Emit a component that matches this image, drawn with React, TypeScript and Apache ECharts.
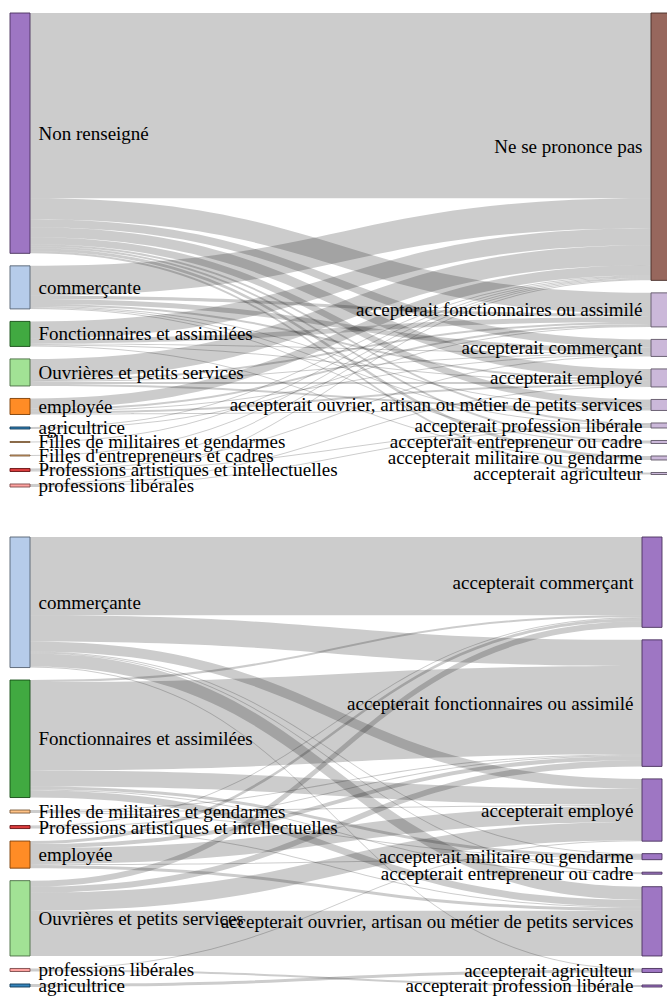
import React, { useEffect, useRef } from 'react';
import * as echarts from 'echarts';

// ---------- Top diagram ----------
const topOrigins = [
  'Non renseigné',
  'commerçante',
  'Fonctionnaires et assimilées',
  'Ouvrières et petits services',
  'employée',
  'agricultrice',
  'Filles de militaires et gendarmes',
  "Filles d'entrepreneurs et cadres",
  'Professions artistiques et intellectuelles',
  'professions libérales',
];
const topAnswers = [
  'Ne se prononce pas',
  'accepterait fonctionnaires ou assimilé',
  'accepterait commerçant',
  'accepterait employé',
  'accepterait ouvrier, artisan ou métier de petits services',
  'accepterait profession libérale',
  'accepterait entrepreneur ou cadre',
  'accepterait militaire ou gendarme',
  'accepterait agriculteur',
];
// rows = origins, columns = answers
const topFlows = [
  [185, 21, 8, 10, 7, 2, 2, 3, 2],
  [30, 3, 5, 2, 1, 1, 1, 0, 0],
  [17, 5, 1, 1, 0, 0, 0, 1, 0],
  [20, 2, 1, 2, 2, 0, 0, 0, 0],
  [10, 2, 1, 2, 1, 0, 0, 0, 0],
  [1, 1, 0, 0, 0, 0, 0, 0, 0],
  [1, 0, 0, 0, 0, 0, 0, 0, 0],
  [1, 0, 0, 0, 0, 0, 0, 0, 0],
  [1, 0, 1, 0, 0, 1, 0, 0, 0],
  [1, 0, 0, 1, 0, 1, 0, 0, 0],
];

// ---------- Bottom diagram ----------
const bottomOrigins = [
  'commerçante',
  'Fonctionnaires et assimilées',
  'Filles de militaires et gendarmes',
  'Professions artistiques et intellectuelles',
  'employée',
  'Ouvrières et petits services',
  'professions libérales',
  'agricultrice',
];
const bottomAnswers = [
  'accepterait commerçant',
  'accepterait fonctionnaires ou assimilé',
  'accepterait employé',
  'accepterait militaire ou gendarme',
  'accepterait entrepreneur ou cadre',
  'accepterait ouvrier, artisan ou métier de petits services',
  'accepterait agriculteur',
  'accepterait profession libérale',
];
const bottomFlows = [
  [78, 26, 10, 1, 1, 13, 1, 0],
  [2, 88, 16, 3, 1, 7, 0, 0],
  [0, 1, 1, 1, 0, 0, 0, 0],
  [1, 1, 0, 0, 0, 1, 0, 0],
  [3, 4, 16, 1, 0, 3, 0, 0],
  [6, 6, 18, 0, 0, 45, 0, 0],
  [0, 0, 1, 0, 0, 0, 0, 2],
  [0, 0, 0, 0, 0, 0, 3, 0],
];

// ---------- styles ----------
const baseColors: Record<string, string> = {
  agricultrice: '#1f77b4',
  'commerçante': '#aec7e8',
  'employée': '#ff7f0e',
  Filles: '#ffbb78',
  Fonctionnaires: '#2ca02c',
  'Ouvrières': '#98df8a',
  Professions: '#d62728',
  professions: '#ff9896',
  Non: '#9467bd',
  Ne: '#8c564b',
};

function darker(hex: string): string {
  const k = 0.49;
  const r = Math.round(parseInt(hex.slice(1, 3), 16) * k);
  const g = Math.round(parseInt(hex.slice(3, 5), 16) * k);
  const b = Math.round(parseInt(hex.slice(5, 7), 16) * k);
  return 'rgb(' + r + ',' + g + ',' + b + ')';
}

const FONT = "'Liberation Serif', 'Times New Roman', serif";

function buildSeries(
  origins: string[],
  answers: string[],
  flows: number[][],
  answerColor: string,
  box: { left: number; top: number; width: number; height: number }
) {
  const colorOf = (name: string, isAnswer: boolean) => {
    const first = name.split(' ')[0];
    if (isAnswer && first === 'accepterait') return answerColor;
    return baseColors[first] || baseColors[name] || '#999';
  };
  const data: any[] = [];
  origins.forEach((n) => {
    const c = colorOf(n, false);
    data.push({
      name: 'o:' + n,
      itemStyle: { color: c, borderColor: darker(c), borderWidth: 1, opacity: 0.9 },
      label: { position: 'right', formatter: n },
    });
  });
  answers.forEach((n) => {
    const c = colorOf(n, true);
    data.push({
      name: 'a:' + n,
      itemStyle: { color: c, borderColor: darker(c), borderWidth: 1, opacity: 0.9 },
      label: { position: 'left', formatter: n },
    });
  });
  const links: any[] = [];
  flows.forEach((row, i) => {
    row.forEach((v, j) => {
      if (v > 0) links.push({ source: 'o:' + origins[i], target: 'a:' + answers[j], value: v });
    });
  });
  return {
    type: 'sankey',
    ...box,
    nodeWidth: 20,
    nodeGap: 12.5,
    layoutIterations: 0,
    nodeAlign: 'justify',
    draggable: false,
    data,
    links,
    lineStyle: { color: '#000', opacity: 0.2, curveness: 0.5 },
    label: {
      show: true,
      color: '#000',
      fontFamily: FONT,
      fontSize: 19,
      distance: 8,
    },
    emphasis: { disabled: true },
  };
}

export default function App() {
  const ref = useRef<HTMLDivElement>(null);
  useEffect(() => {
    if (!ref.current) return;
    const chart = echarts.init(ref.current, undefined, { renderer: 'svg' });
    chart.setOption({
      animation: false,
      backgroundColor: '#fff',
      series: [
        buildSeries(topOrigins, topAnswers, topFlows, '#c5b0d5', { left: 10, top: 13, width: 661, height: 474 }),
        buildSeries(bottomOrigins, bottomAnswers, bottomFlows, '#9467bd', { left: 10, top: 537, width: 652, height: 450 }),
      ],
    });
    return () => chart.dispose();
  }, []);
  return (
    <div
      ref={ref}
      style={{ position: 'fixed', left: 0, top: 0, width: 667, height: 1003 }}
    />
  );
}
